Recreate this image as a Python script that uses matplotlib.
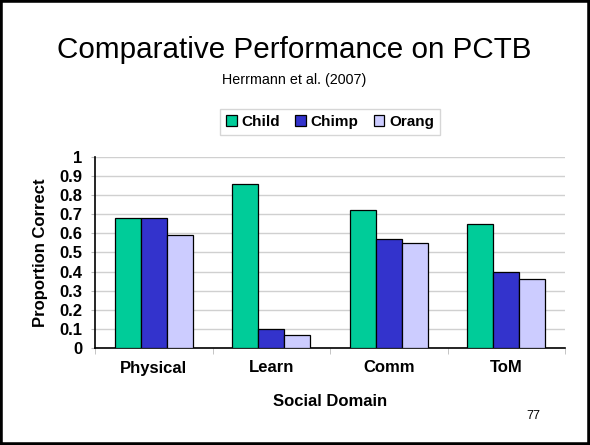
import numpy as np
import matplotlib
matplotlib.use('Agg')
import matplotlib.pyplot as plt
from matplotlib.patches import Rectangle

plt.rcParams['font.family'] = ['Liberation Sans', 'DejaVu Sans']

# datos
dominios = ['Physical', 'Learn', 'Comm', 'ToM']
child = [0.68, 0.86, 0.72, 0.65]
chimp = [0.68, 0.10, 0.57, 0.40]
orang = [0.59, 0.07, 0.55, 0.36]
yticks = [0, 0.1, 0.2, 0.3, 0.4, 0.5, 0.6, 0.7, 0.8, 0.9, 1]

fig = plt.figure(figsize=(5.9, 4.45), dpi=100)
ax = fig.add_axes([95/590, 97/445, 470/590, 191/445])

x = np.arange(len(dominios))
w = 0.222
series = [(child, '#00CC99', 'Child'),
          (chimp, '#3333CC', 'Chimp'),
          (orang, '#CCCCFF', 'Orang')]
for i, (vals, col, lab) in enumerate(series):
    ax.bar(x + (i - 1) * w, vals, w, color=col, edgecolor='black',
           linewidth=0.9, label=lab, zorder=3)

ax.set_xlim(-0.5, len(dominios) - 0.5)
ax.set_ylim(0, 1)
ax.set_yticks(yticks)
ax.set_yticklabels(['%g' % t for t in yticks], fontsize=12, fontweight='bold')
ax.tick_params(axis='y', length=3, color='#BBBBBB', pad=6)
ax.grid(axis='y', color='#D0D0D0', linewidth=1, zorder=0)
ax.set_xticks(x)
ax.set_xticklabels(dominios, fontsize=12, fontweight='bold')
ax.tick_params(axis='x', length=0, pad=9)
ax.set_xticks(np.arange(-0.5, len(dominios)), minor=True)
ax.tick_params(axis='x', which='minor', length=4, color='#BBBBBB')
for s in ['top', 'right']:
    ax.spines[s].set_visible(False)
ax.spines['left'].set_linewidth(1.2)
ax.spines['bottom'].set_linewidth(1.2)

ax.set_ylabel('Proportion Correct', fontsize=12, fontweight='bold', labelpad=8)
ax.set_xlabel('Social Domain', fontsize=12, fontweight='bold', labelpad=13)

fig.text(294/590, 1 - 50/445, 'Comparative Performance on PCTB', fontsize=21.3,
         ha='center', va='center')
fig.text(294/590, 1 - 80/445, 'Herrmann et al. (2007)', fontsize=10.3,
         ha='center', va='center')
fig.text(533/590, 1 - 416/445, '77', fontsize=9, ha='center', va='center')

leg = fig.legend(loc='center', bbox_to_anchor=(330/590, 1 - 122/445), ncol=3,
                 prop={'size': 11, 'weight': 'bold'}, frameon=True, fancybox=False,
                 handlelength=0.7, handleheight=0.7, handletextpad=0.3,
                 columnspacing=1.0, borderpad=0.4)
leg.get_frame().set_edgecolor('#CCCCCC')
leg.get_frame().set_linewidth(1)

fig.patches.append(Rectangle((0, 0), 1, 1, transform=fig.transFigure,
                             fill=False, edgecolor='black', linewidth=4))

fig.savefig('out.png', dpi=100)
